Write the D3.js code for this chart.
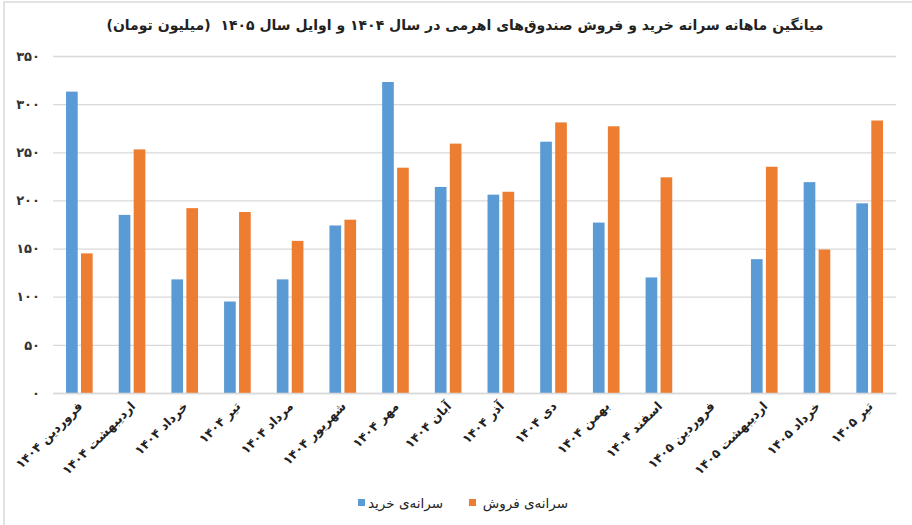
<!DOCTYPE html>
<html>
<head>
<meta charset="utf-8">
<script src="https://cdn.jsdelivr.net/npm/d3@7"></script>
<style>
  body { margin: 0; background: #fff; }
  text { font-family: "DejaVu Sans", sans-serif; }
</style>
</head>
<body>
<div id="chart"></div>
<script>
// data
const categories = [
  "فروردین ۱۴۰۴", "اردیبهشت ۱۴۰۴", "خرداد ۱۴۰۴", "تیر ۱۴۰۴",
  "مرداد ۱۴۰۴", "شهریور ۱۴۰۴", "مهر ۱۴۰۴", "آبان ۱۴۰۴",
  "آذر ۱۴۰۴", "دی ۱۴۰۴", "بهمن ۱۴۰۴", "اسفند ۱۴۰۴",
  "فروردین ۱۴۰۵", "اردیبهشت ۱۴۰۵", "خرداد ۱۴۰۵", "تیر ۱۴۰۵"
];
const buyValues  = [313, 185, 118, 95, 118, 174, 323, 214, 206, 261, 177, 120, null, 139, 219, 197];
const sellValues = [145, 253, 192, 188, 158, 180, 234, 259, 209, 281, 277, 224, null, 235, 149, 283];
const seriesNames = ["سرانه‌ی خرید", "سرانه‌ی فروش"];
const yTicks = [0, 50, 100, 150, 200, 250, 300, 350];
const title = "میانگین ماهانه سرانه خرید و فروش صندوق‌های اهرمی در سال ۱۴۰۴ و اوایل سال ۱۴۰۵  (میلیون تومان)";

const colors = ["#5B9BD5", "#ED7D31"];

// latin digits -> persian digits
const faDigits = "۰۱۲۳۴۵۶۷۸۹";
const toFa = v => String(v).replace(/\d/g, d => faDigits[+d]);

// svg container
const svgWidth = 912, svgHeight = 525;
const margin = { top: 56, right: 16, bottom: 132, left: 53 };
const chartWidth = svgWidth - margin.left - margin.right;
const chartHeight = svgHeight - margin.top - margin.bottom;

const svg = d3.select("#chart").append("svg")
  .attr("width", svgWidth)
  .attr("height", svgHeight);

// chart border (only top/left edge fall inside the picture)
svg.append("rect")
  .attr("x", 4).attr("y", 2)
  .attr("width", svgWidth).attr("height", svgHeight)
  .attr("fill", "none")
  .attr("stroke", "#d9d9d9")
  .attr("stroke-width", 1.5);

// title
svg.append("text")
  .attr("x", 465)
  .attr("y", 30)
  .attr("text-anchor", "middle")
  .style("font-size", "14px")
  .style("font-weight", "bold")
  .style("white-space", "pre")
  .attr("fill", "#222")
  .text(title);

const chartGroup = svg.append("g")
  .attr("transform", `translate(${margin.left}, ${margin.top})`);

// scales
const yScale = d3.scaleLinear()
  .domain([0, 350])
  .range([chartHeight, 0]);

const x0 = d3.scaleBand()
  .domain(categories)
  .range([0, chartWidth]);

const x1 = d3.scaleBand()
  .domain([0, 1])
  .range([0, x0.bandwidth()])
  .paddingInner(0.22)
  .paddingOuter(0.87);

// gridlines + y labels
const yAxis = d3.axisLeft(yScale)
  .tickValues(yTicks)
  .tickSize(-chartWidth)
  .tickPadding(13)
  .tickFormat(toFa);

const yG = chartGroup.append("g").call(yAxis);
yG.select(".domain").remove();
yG.selectAll(".tick line").attr("stroke", "#d9d9d9").attr("stroke-width", 1.3);
yG.selectAll(".tick text")
  .attr("fill", "#333")
  .style("font-size", "13px")
  .style("font-weight", "bold");

// bars
const rows = categories.map((c, i) => ({ cat: c, vals: [buyValues[i], sellValues[i]] }));

const groups = chartGroup.selectAll(".group")
  .data(rows)
  .enter()
  .append("g")
  .attr("transform", d => `translate(${x0(d.cat)}, 0)`);

groups.selectAll("rect")
  .data(d => d.vals.map((v, k) => ({ k, v })).filter(e => e.v != null))
  .enter()
  .append("rect")
  .attr("x", d => x1(d.k))
  .attr("y", d => yScale(d.v))
  .attr("width", x1.bandwidth())
  .attr("height", d => chartHeight - yScale(d.v))
  .attr("fill", d => colors[d.k]);

// x axis
const xAxis = d3.axisBottom(x0).tickSize(0).tickPadding(0);
const xG = chartGroup.append("g")
  .attr("transform", `translate(0, ${chartHeight})`)
  .call(xAxis);
xG.select(".domain").attr("stroke", "#d9d9d9").attr("stroke-width", 1.3);
xG.selectAll(".tick text")
  .attr("text-anchor", "end")
  .attr("dy", 0)
  .attr("x", 4)
  .attr("y", 14)
  .attr("transform", "rotate(-45, 4, 14)")
  .attr("fill", "#222")
  .style("font-size", "12.5px")
  .style("font-weight", "bold");

// legend
const legend = svg.append("g").attr("transform", "translate(0, 503)");
const legendItems = [
  { name: seriesNames[0], color: colors[0], sq: 358, tx: 443 },
  { name: seriesNames[1], color: colors[1], sq: 469, tx: 568 }
];
legendItems.forEach(item => {
  legend.append("rect")
    .attr("x", item.sq).attr("y", -4)
    .attr("width", 7).attr("height", 7)
    .attr("fill", item.color);
  legend.append("text")
    .attr("x", item.tx).attr("y", 0)
    .attr("dy", "0.35em")
    .attr("text-anchor", "end")
    .attr("fill", "#222")
    .style("font-size", "13.5px")
    .text(item.name);
});
</script>
</body>
</html>
